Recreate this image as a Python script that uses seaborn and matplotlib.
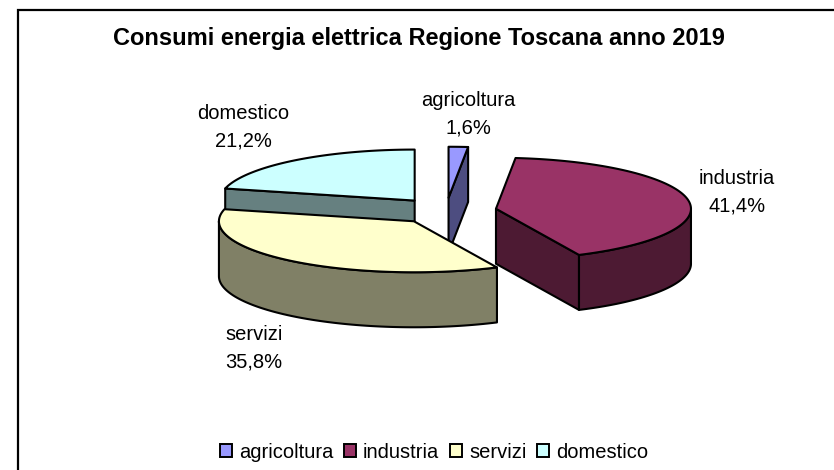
import numpy as np
import matplotlib
matplotlib.use("Agg")
import matplotlib.pyplot as plt
from matplotlib.patches import Polygon, Patch
import seaborn as sns

# ---- data ----
title = "Consumi energia elettrica Regione Toscana anno 2019"
categories = ["agricoltura", "industria", "servizi", "domestico"]
shares = [1.6, 41.4, 35.8, 21.2]
colors = ["#9999FF", "#993366", "#FFFFCC", "#CCFFFF"]

# ---- geometry of the pseudo 3D pie, in pixels ----
CX, CY = 446.0, 211.0      # pie centre
RX, RY = 195.0, 51.0       # radii of the projected ellipse
EXPLODE = 0.26             # explosion as a fraction of the radius
DEPTH = 55.0               # pie thickness
LW = 1.5
label_pos = {"agricoltura": (468, 114), "industria": (737, 192),
             "servizi": (254, 348), "domestico": (243, 127)}

sns.set_theme(style="white")
plt.rcParams["font.family"] = ["Liberation Sans", "DejaVu Sans"]
palette = sns.color_palette(colors)

fig = plt.figure(figsize=(8.34, 4.70), dpi=100, facecolor="white")
ax = fig.add_axes([0, 0, 1, 1])
ax.set_xlim(0, 834)
ax.set_ylim(470, 0)
ax.axis("off")

# chart frame (runs off the right and bottom edges)
ax.plot([18, 18, 840], [480, 10, 10], color="black", lw=1.6, solid_joinstyle="miter", zorder=1)


def rim(cx, cy, theta):
    return cx + RX * np.sin(theta), cy - RY * np.cos(theta)


edges = np.radians(np.concatenate([[0], np.cumsum(shares)]) * 360 / np.sum(shares))
wedges = []
for i, name in enumerate(categories):
    t0, t1 = edges[i], edges[i + 1]
    mid = (t0 + t1) / 2
    cx = CX + EXPLODE * RX * np.sin(mid)
    cy = CY - EXPLODE * RY * np.cos(mid)
    wedges.append(dict(i=i, t0=t0, t1=t1, cx=cx, cy=cy, mid=mid))


def add(pts, face, z):
    ax.add_patch(Polygon(pts, closed=True, facecolor=face, edgecolor="black",
                         lw=LW, joinstyle="round", zorder=z))


# paint from the back of the pie to the front
order = sorted(wedges, key=lambda w: w["cy"])
for z, w in enumerate(order):
    cx, cy, t0, t1 = w["cx"], w["cy"], w["t0"], w["t1"]
    base = np.array(palette[w["i"]])
    dark = tuple(base * 0.5)
    zb = 2 + z * 3
    # cut faces, visible when their outward normal points to the viewer
    for t, sign in ((t0, -1), (t1, 1)):
        if np.cos(t + sign * np.pi / 2) < 0:
            x, y = rim(cx, cy, t)
            add([(cx, cy), (x, y), (x, y + DEPTH), (cx, cy + DEPTH)], dark, zb)
    # outer curved wall: only the part at the front
    lo, hi = max(t0, np.pi / 2), min(t1, 3 * np.pi / 2)
    if hi > lo:
        ts = np.linspace(lo, hi, 80)
        xs, ys = rim(cx, cy, ts)
        pts = list(zip(xs, ys)) + list(zip(xs[::-1], ys[::-1] + DEPTH))
        add(pts, dark, zb + 1)
    # top face
    ts = np.linspace(t0, t1, 120)
    xs, ys = rim(cx, cy, ts)
    add([(cx, cy)] + list(zip(xs, ys)), tuple(base), zb + 2)

ax.text(419, 38, title, ha="center", va="center", fontsize=17, fontweight="bold",
        color="black", zorder=40)

for name, v in zip(categories, shares):
    x, y = label_pos[name]
    ax.text(x, y, f"{name}\n{v:.1f}%".replace(".", ","), ha="center", va="center",
            fontsize=14.5, linespacing=1.55, color="black", zorder=40)

handles = [Patch(facecolor=c, edgecolor="black", lw=1.4) for c in palette]
ax.legend(handles, categories, ncol=4, loc="center", bbox_to_anchor=(434 / 834, 1 - 452 / 470),
          frameon=False, fontsize=14.5, handlelength=0.6, handleheight=0.6,
          handletextpad=0.35, columnspacing=0.53, borderpad=0, labelcolor="black")

fig.savefig("out.png", dpi=100)
